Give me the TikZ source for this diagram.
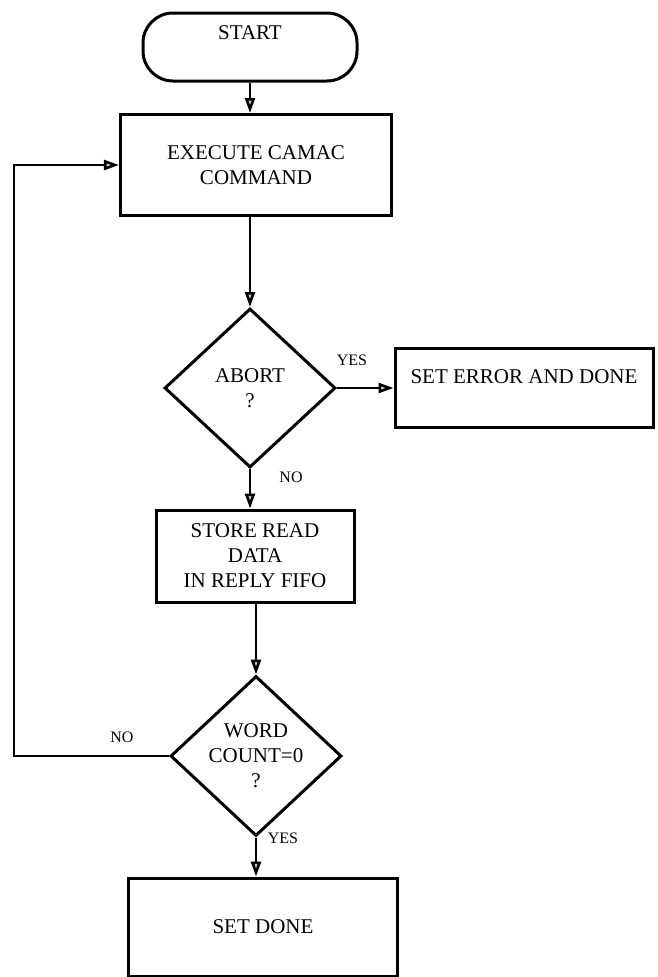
\documentclass[tikz,border=0pt]{standalone}
\usepackage{fontspec}
\setmainfont{Liberation Serif}
\usetikzlibrary{shapes.geometric,arrows.meta}

\tikzset{
  box/.style={draw, line width=3bp, rectangle, align=center, inner sep=0pt,
    font=\fontsize{21bp}{25bp}\selectfont},
  terminal/.style={box, rounded corners=30bp},
  decision/.style={box, diamond, aspect=1.07},
  tag/.style={font=\fontsize{16bp}{18bp}\selectfont, inner sep=0pt},
  flow/.style={line width=2.6bp, -{Triangle[length=15bp,width=10bp,fill=gray!40]}}
}

\begin{document}
\begin{tikzpicture}[x=1bp, y=-1bp]
  \useasboundingbox (0,0) rectangle (658,977);

  % main column
  \node[terminal, minimum width=214bp, minimum height=68bp,
        text height=15bp, text depth=31bp] (start) at (250,47) {START};
  \node[box, minimum width=271bp, minimum height=101bp] (exec) at (256,165)
    {EXECUTE CAMAC\\COMMAND};
  \node[decision, minimum width=171bp, minimum height=159bp] (abort) at (250,388)
    {ABORT\\?};
  \node[box, minimum width=258bp, minimum height=79bp,
        text height=15bp, text depth=24bp] (err) at (524,388) {SET ERROR AND DONE};
  \node[box, minimum width=198bp, minimum height=92bp] (store) at (255,556)
    {STORE READ\\DATA\\IN REPLY FIFO};
  \node[decision, minimum width=171bp, minimum height=160bp] (word) at (256,756)
    {WORD\\COUNT=0\\?};
  \node[box, minimum width=268bp, minimum height=98bp] (done) at (263,927) {SET DONE};
  \coordinate (loop) at (14,756);

  % branch labels
  \node[tag] (abortyes) at (352,360) {YES};
  \node[tag] (abortno) at (291,477) {NO};
  \node[tag] (wordno) at (122,737) {NO};
  \node[tag] (wordyes) at (283,838) {YES};

  % connectors
  \draw[flow] (start.south) -- (start.south |- exec.north);
  \draw[flow] (abort.north |- exec.south) -- (abort.north);
  \draw[flow] (abort.east) -- (err.west);
  \draw[flow] (abort.south) -- (abort.south |- store.north);
  \draw[flow] (word.north |- store.south) -- (word.north);
  \draw[flow] (word.south) -- (word.south |- done.north);
  \draw[flow] (word.west) -- (loop) |- (exec.west);
\end{tikzpicture}
\end{document}
